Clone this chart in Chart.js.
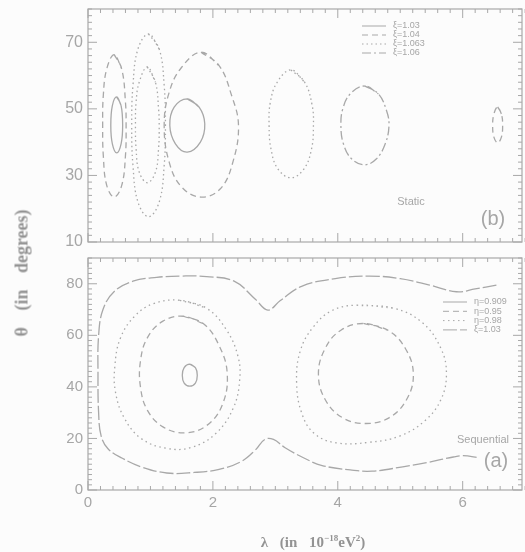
<!DOCTYPE html>
<html>
<head>
<meta charset="utf-8">
<title>Static / Sequential contours</title>
<script src="https://cdn.jsdelivr.net/npm/chart.js@4.4.0/dist/chart.umd.min.js"></script>
<style>
  html, body { margin: 0; padding: 0; background: #fcfcfc; }
  #wrap { position: relative; width: 525px; height: 552px; overflow: hidden; }
  canvas { position: absolute; left: 0; }
  #topChart { top: 0; }
  #bottomChart { top: 250px; }
  .title {
    position: absolute; color: #939393; font-family: "Liberation Serif", serif;
    font-weight: bold; white-space: nowrap;
  }
  #ytitle { left: 22px; top: 273px; font-size: 18px; word-spacing: 12px; transform: translate(-50%, -50%) rotate(-90deg); }
  #xtitle { left: 313px; top: 542px; font-size: 15px; word-spacing: 8px; transform: translate(-50%, -50%); }
</style>
</head>
<body>
<div id="wrap">
  <canvas id="topChart" width="525" height="252"></canvas>
  <canvas id="bottomChart" width="525" height="302"></canvas>
  <div class="title" id="ytitle">&theta; (in degrees)</div>
  <div class="title" id="xtitle">&lambda; (in 10<sup style="font-size:9px">&minus;18</sup>eV<sup style="font-size:9px">2</sup>)</div>
</div>
<script>
// axis ticks
const lambdaTicks = [0, 2, 4, 6];
const topThetaTicks = [10, 30, 50, 70];
const bottomThetaTicks = [0, 20, 40, 60, 80];

// legend labels
const topLevels = ["ξ=1.03", "ξ=1.04", "ξ=1.063", "ξ=1.06"];
const bottomLevels = ["η=0.909", "η=0.95", "η=0.98", "ξ=1.03"];

// (b) Static contours, [lambda, theta]
const staticSolidA = [[0.46,53.6],[0.53,51],[0.555,45],[0.53,39.5],[0.46,36.8],[0.39,39.5],[0.365,45],[0.39,51],[0.46,53.6]];
const staticSolidB = [[1.59,53],[1.78,50.5],[1.87,45.5],[1.8,40],[1.59,37],[1.4,39.5],[1.31,45],[1.38,50.5],[1.59,53]];
const staticDashA = [[0.42,66.3],[0.54,62],[0.6,52],[0.61,45],[0.6,36],[0.54,27],[0.42,23.5],[0.3,27],[0.245,36],[0.235,45],[0.245,54],[0.3,62],[0.42,66.3]];
const staticDashB = [[1.81,67],[2.1,63],[2.3,54],[2.41,45],[2.32,34],[2.12,26],[1.81,23.5],[1.5,26.5],[1.3,34],[1.22,45],[1.3,55],[1.5,62.5],[1.81,67]];
const staticDotA = [[0.97,72.5],[1.14,68],[1.22,57],[1.24,45],[1.22,33],[1.14,22],[0.97,17.6],[0.8,22],[0.72,33],[0.7,45],[0.72,57],[0.8,68],[0.97,72.5]];
const staticDotB = [[4.43,56.9],[4.65,54.5],[4.78,49.5],[4.82,45],[4.76,39.5],[4.62,35],[4.43,33.2],[4.22,35],[4.09,39.5],[4.05,45],[4.08,50],[4.2,54.5],[4.43,56.9]];
const staticLongA = [[0.95,62.6],[1.08,58],[1.13,50],[1.14,45],[1.13,38],[1.08,31],[0.95,27.8],[0.82,31],[0.77,38],[0.76,45],[0.77,52],[0.82,58],[0.95,62.6]];
const staticLongB = [[3.25,61.7],[3.47,58],[3.59,51],[3.61,45],[3.58,38],[3.46,32],[3.25,29.3],[3.04,32],[2.93,38],[2.9,45],[2.92,52],[3.03,58],[3.25,61.7]];
const staticLongC = [[6.56,50.6],[6.62,48.5],[6.64,45],[6.62,41.5],[6.56,39.8],[6.5,41.5],[6.48,45],[6.5,48.5],[6.56,50.6]];

// (a) Sequential contours
const seqSolid = [[1.63,48.8],[1.72,47.5],[1.75,44.5],[1.72,41.5],[1.63,40.3],[1.54,41.5],[1.51,44.5],[1.54,47.5],[1.63,48.8]];
const seqDashL = [[1.53,67.4],[1.85,64.5],[2.1,56],[2.23,45],[2.15,33],[1.9,25],[1.55,22.2],[1.2,24.5],[0.95,31],[0.84,40],[0.84,50],[0.95,59],[1.2,65.5],[1.53,67.4]];
const seqDashR = [[4.41,64.6],[4.8,62],[5.08,55],[5.21,45],[5.1,35],[4.82,28],[4.45,25.8],[4.08,28],[3.8,35],[3.69,45],[3.8,55],[4.05,62],[4.41,64.6]];
const seqDotL = [[1.47,73.6],[1.9,70.5],[2.22,62],[2.4,52],[2.43,43],[2.33,32],[2.05,22],[1.65,16.5],[1.25,16.2],[0.85,20],[0.58,28],[0.44,38],[0.43,48],[0.52,59],[0.75,67.5],[1.05,72.3],[1.47,73.6]];
const seqDotR = [[4.3,71.7],[4.9,70.5],[5.35,65],[5.65,55],[5.74,45],[5.65,35],[5.4,27],[5.0,21],[4.5,18.5],[3.97,18.3],[3.62,22],[3.42,30],[3.34,42],[3.4,54],[3.6,63],[3.9,69.5],[4.3,71.7]];
const seqOuter = [[6.54,79.5],[6.2,78],[5.9,76.9],[5.47,79.5],[5.0,82],[4.5,83],[3.96,82],[3.42,79],[3.08,73.5],[2.88,69.8],[2.68,74],[2.34,81],[1.9,82.8],[1.5,83],[1.1,82.5],[0.72,81],[0.42,77],[0.24,70],[0.17,60],[0.16,45],[0.17,30],[0.21,21],[0.32,16],[0.55,12.3],[0.85,9],[1.26,6.6],[1.7,6.8],[2.1,8],[2.45,11],[2.68,15.5],[2.83,19.6],[2.97,19.6],[3.15,16.5],[3.45,12.5],[3.75,9.5],[4.2,7.8],[4.55,7.3],[5.04,9],[5.4,10.5],[5.85,12.8],[6.0,13.3],[6.27,12.5]];

const grey = "#a8a8a8";
const textGrey = "#a6a6a6";
const dashes = [[], [6, 4], [1.5, 3], [9, 3, 2, 3]];

// closed loops: run one point past the start so the spline has no corner where it closes
const loop = (pts) => pts.concat([pts[1]]);

const line = (data, level, dashSet) => ({
  data,
  level,
  showLine: true,
  tension: 0.4,
  borderColor: grey,
  borderWidth: 1.3,
  borderDash: dashSet[level],
  pointRadius: 0,
  fill: false,
});

// labels at the ends are not at the edges here, so drop the scale's edge padding
const noEdgePad = (s) => { s.paddingTop = 0; s.paddingBottom = 0; s.paddingLeft = 0; s.paddingRight = 0; };

// frame, inward ticks, legend and labels
const decor = {
  id: "decor",
  afterDatasetsDraw(chart, args, opts) {
    const { ctx, chartArea: a, scales } = chart;
    const x = scales.x, y = scales.y;
    ctx.save();
    ctx.strokeStyle = grey;
    ctx.lineWidth = 1.2;
    ctx.setLineDash([]);
    ctx.strokeRect(a.left, a.top, a.right - a.left, a.bottom - a.top);
    ctx.lineWidth = 1;
    for (let i = 0; i <= 35; i++) {
      const px = x.getPixelForValue(i * 0.2);
      const len = i % 10 === 0 ? 9 : 4;
      ctx.beginPath();
      ctx.moveTo(px, a.bottom); ctx.lineTo(px, a.bottom - len);
      ctx.moveTo(px, a.top); ctx.lineTo(px, a.top + len);
      ctx.stroke();
    }
    for (let v = y.min; v <= y.max; v += 2) {
      const py = y.getPixelForValue(v);
      const len = opts.yTicks.includes(v) ? 9 : 4;
      ctx.beginPath();
      ctx.moveTo(a.left, py); ctx.lineTo(a.left + len, py);
      ctx.moveTo(a.right, py); ctx.lineTo(a.right - len, py);
      ctx.stroke();
    }
    // legend
    ctx.font = "9px 'Liberation Sans', sans-serif";
    ctx.fillStyle = textGrey;
    ctx.textBaseline = "middle";
    opts.levels.forEach((lab, k) => {
      const ly = opts.legendY + k * opts.rowGap;
      ctx.setLineDash(opts.dashSet[k]);
      ctx.beginPath();
      ctx.moveTo(opts.legendX, ly);
      ctx.lineTo(opts.legendX + 24, ly);
      ctx.stroke();
      ctx.fillText(lab, opts.legendX + 31, ly);
    });
    ctx.setLineDash([]);
    ctx.font = "11px 'Liberation Sans', sans-serif";
    ctx.textAlign = "center";
    ctx.fillText(opts.name, opts.nameX, opts.nameY);
    ctx.font = "20px 'Liberation Sans', sans-serif";
    ctx.fillText(opts.panel, opts.panelX, opts.panelY);
    ctx.restore();
  },
};

const tickFont = (size) => ({ family: "'Liberation Sans', sans-serif", size });

new Chart(document.getElementById("topChart"), {
  type: "scatter",
  data: {
    datasets: [
      line(loop(staticSolidA), 0, dashes), line(loop(staticSolidB), 0, dashes),
      line(loop(staticDashA), 1, dashes), line(loop(staticDashB), 1, dashes),
      line(loop(staticDotA), 2, dashes), line(loop(staticDotB), 3, dashes),
      line(loop(staticLongA), 2, dashes), line(loop(staticLongB), 2, dashes),
      line(loop(staticLongC), 1, dashes),
    ],
  },
  options: {
    responsive: false,
    animation: false,
    layout: { padding: { top: 9, right: 3, bottom: 10, left: 0 } },
    plugins: {
      legend: { display: false },
      tooltip: { enabled: false },
      decor: {
        yTicks: topThetaTicks, levels: topLevels, dashSet: dashes,
        legendX: 362, legendY: 26, rowGap: 9,
        name: "Static", nameX: 411, nameY: 202,
        panel: "(b)", panelX: 493, panelY: 219,
      },
    },
    scales: {
      x: { type: "linear", min: 0, max: 6.95, display: false },
      y: {
        min: 10, max: 80,
        afterBuildTicks: (s) => { s.ticks = topThetaTicks.map((v) => ({ value: v })); },
        afterFit: (s) => { s.width = 88; noEdgePad(s); },
        grid: { display: false, drawTicks: false },
        border: { display: false },
        ticks: { color: textGrey, font: tickFont(16), padding: 5 },
      },
    },
  },
  plugins: [decor],
});

const dashesB = [[], [6, 4], [1.5, 3.5], [14, 3]];

new Chart(document.getElementById("bottomChart"), {
  type: "scatter",
  data: {
    datasets: [
      line(loop(seqSolid), 0, dashesB),
      line(loop(seqDashL), 1, dashesB), line(loop(seqDashR), 1, dashesB),
      line(loop(seqDotL), 2, dashesB), line(loop(seqDotR), 2, dashesB),
      line(seqOuter, 3, dashesB),
    ],
  },
  options: {
    responsive: false,
    animation: false,
    layout: { padding: { top: 8, right: 3, bottom: 40, left: 0 } },
    plugins: {
      legend: { display: false },
      tooltip: { enabled: false },
      decor: {
        yTicks: bottomThetaTicks, levels: bottomLevels, dashSet: dashesB,
        legendX: 443, legendY: 52, rowGap: 9.3,
        name: "Sequential", nameX: 483, nameY: 190,
        panel: "(a)", panelX: 496, panelY: 211,
      },
    },
    scales: {
      x: {
        type: "linear", min: 0, max: 6.95,
        afterBuildTicks: (s) => { s.ticks = lambdaTicks.map((v) => ({ value: v })); },
        afterFit: (s) => { s.height = 22; noEdgePad(s); },
        grid: { display: false, drawTicks: false },
        border: { display: false },
        ticks: { color: textGrey, font: tickFont(15), padding: 4 },
      },
      y: {
        min: 0, max: 90,
        afterBuildTicks: (s) => { s.ticks = bottomThetaTicks.map((v) => ({ value: v })); },
        afterFit: (s) => { s.width = 88; noEdgePad(s); },
        grid: { display: false, drawTicks: false },
        border: { display: false },
        ticks: { color: textGrey, font: tickFont(15), padding: 5 },
      },
    },
  },
  plugins: [decor],
});
</script>
</body>
</html>
